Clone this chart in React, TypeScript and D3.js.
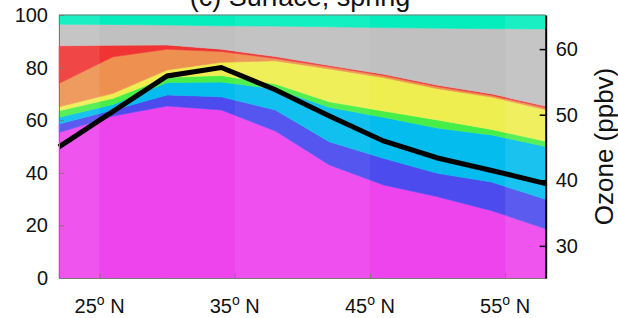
import React, { useRef, useEffect } from 'react';
import * as d3 from 'd3';

// latitude grid (deg N) and share of each source (% of surface ozone), bottom to top
const latitudes = [22, 26, 30, 34, 38, 42, 46, 50, 54, 58];
const magenta = [55.3, 61.6, 65.4, 63.9, 55.9, 43.0, 35.4, 30.9, 25.6, 18.7];
const blue = [3.3, 2.3, 4.2, 5.0, 8.0, 8.8, 10.1, 8.9, 10.9, 11.2];
const cyan = [2.5, 2.1, 4.7, 5.6, 8.0, 13.1, 15.6, 17.2, 17.9, 20.1];
const green = [2.5, 2.3, 2.0, 2.5, 1.9, 2.1, 2.4, 3.1, 2.1, 2.0];
const yellow = [1.5, 1.9, 2.8, 5.0, 8.8, 12.5, 12.7, 11.9, 12.3, 12.0];
const orange = [8.9, 13.9, 7.9, 4.1, 0.9, 0.8, 0.8, 0.8, 0.7, 0.7];
const red = [14.3, 4.4, 1.6, 0.9, 0.7, 0.5, 0.5, 0.5, 0.5, 0.6];
const gray = [8.2, 7.9, 7.6, 8.9, 11.6, 14.7, 17.7, 21.7, 24.8, 29.4];
const teal = [3.5, 3.6, 3.8, 4.1, 4.2, 4.5, 4.8, 5.0, 5.2, 5.3];

// total ozone (ppbv), right axis
const ozone = [45.1, 50.5, 55.9, 57.2, 53.8, 49.8, 46.0, 43.4, 41.5, 39.5];

const xTicks = [25, 35, 45, 55];
const leftTicks = [0, 20, 40, 60, 80, 100];
const rightTicks = [30, 40, 50, 60];

const FONT = '"Liberation Sans", Arial, sans-serif';

export default function App() {
  const svgRef = useRef<SVGSVGElement>(null);

  useEffect(() => {
    const svg = d3.select(svgRef.current);
    svg.selectAll('*').remove();

    const margin = { top: 15, right: 72.3, bottom: 40, left: 59 };
    const width = 618 - margin.left - margin.right;
    const height = 318 - margin.top - margin.bottom;

    const g = svg.append('g').attr('transform', `translate(${margin.left},${margin.top})`);

    const xScale = d3.scaleLinear().domain([22, 58]).range([0, width]);
    const yLeft = d3.scaleLinear().domain([0, 100]).range([height, 0]);
    const yRight = d3.scaleLinear().domain([25.1, 65.2]).range([height, 0]);

    const layers = [
      { key: 'magenta', values: magenta, color: '#ee44ee' },
      { key: 'blue', values: blue, color: '#4b4bee' },
      { key: 'cyan', values: cyan, color: '#04bdee' },
      { key: 'green', values: green, color: '#48ee48' },
      { key: 'yellow', values: yellow, color: '#eeee50' },
      { key: 'orange', values: orange, color: '#ee9050' },
      { key: 'red', values: red, color: '#f03434' },
      { key: 'gray', values: gray, color: '#c0c0c0' },
      { key: 'teal', values: teal, color: '#04eebd' }
    ];

    const rows = latitudes.map((lat, i) => {
      const row: any = { lat };
      layers.forEach(l => { row[l.key] = l.values[i]; });
      return row;
    });

    const stacked = d3.stack().keys(layers.map(l => l.key))(rows);

    const area = d3.area<any>()
      .x(d => xScale(d.data.lat))
      .y0(d => yLeft(d[0]))
      .y1(d => yLeft(d[1]));

    g.selectAll('.layer')
      .data(stacked)
      .enter()
      .append('path')
      .attr('class', 'layer')
      .attr('d', area)
      .attr('fill', (d, i) => layers[i].color)
      .attr('stroke', (d, i) => layers[i].color)
      .attr('stroke-width', 0.6);

    // lighter vertical bands (rendering shading in the original)
    const bands = [
      { from: 22, to: 25, op: 0.09 },
      { from: 35, to: 45, op: 0.06 },
      { from: 55, to: 58, op: 0.09 }
    ];
    g.selectAll('.band')
      .data(bands)
      .enter()
      .append('rect')
      .attr('x', d => xScale(d.from))
      .attr('width', d => xScale(d.to) - xScale(d.from))
      .attr('y', 0)
      .attr('height', height)
      .attr('fill', '#fff')
      .attr('opacity', d => d.op);

    // ozone line
    const line = d3.line<number>()
      .x((d, i) => xScale(latitudes[i]))
      .y(d => yRight(d));

    g.append('path')
      .datum(ozone)
      .attr('d', line)
      .attr('fill', 'none')
      .attr('stroke', '#000')
      .attr('stroke-width', 5);

    // left axis
    const leftAxis = g.append('g')
      .call(d3.axisLeft(yLeft).tickValues(leftTicks).tickSizeInner(-5).tickSizeOuter(0).tickPadding(11));
    leftAxis.select('.domain').attr('stroke', '#7a7a7a');
    leftAxis.selectAll('line').attr('stroke', '#7a7a7a');
    leftAxis.selectAll('text')
      .style('font-family', FONT)
      .style('font-size', '20px')
      .style('fill', '#111');

    // top border
    g.append('line')
      .attr('x1', 0).attr('x2', width)
      .attr('y1', 0).attr('y2', 0)
      .attr('stroke', '#7a7a7a');

    // bottom axis
    const bottomAxis = g.append('g')
      .attr('transform', `translate(0,${height})`)
      .call(d3.axisBottom(xScale).tickValues(xTicks).tickSizeInner(-5).tickSizeOuter(0).tickFormat(() => ''));
    bottomAxis.select('.domain').attr('stroke', '#7a7a7a');
    bottomAxis.selectAll('line').attr('stroke', '#7a7a7a');

    const xLabels = g.selectAll('.x-label')
      .data(xTicks)
      .enter()
      .append('text')
      .attr('class', 'x-label')
      .attr('x', d => xScale(d))
      .attr('y', height + 35)
      .attr('text-anchor', 'middle')
      .style('font-family', FONT)
      .style('font-size', '20px')
      .style('fill', '#111');
    xLabels.append('tspan').text(d => `${d}`);
    xLabels.append('tspan').attr('dy', -8).style('font-size', '14px').text('o');
    xLabels.append('tspan').attr('dy', 8).text(' N');

    // right axis
    const rightAxis = g.append('g')
      .attr('transform', `translate(${width},0)`)
      .call(d3.axisRight(yRight).tickValues(rightTicks).tickSizeInner(-6).tickSizeOuter(0).tickPadding(10));
    rightAxis.select('.domain').attr('stroke', '#000').attr('stroke-width', 2);
    rightAxis.selectAll('line').attr('stroke', '#000').attr('stroke-width', 1.5);
    rightAxis.selectAll('text')
      .style('font-family', FONT)
      .style('font-size', '20px')
      .style('fill', '#111');

    g.append('text')
      .attr('transform', `translate(${width + 67},${height / 2}) rotate(-90)`)
      .attr('text-anchor', 'middle')
      .style('font-family', FONT)
      .style('font-size', '26px')
      .style('fill', '#111')
      .text('Ozone (ppbv)');

    // title
    g.append('text')
      .attr('x', 300 - margin.left)
      .attr('y', 6 - margin.top)
      .attr('text-anchor', 'middle')
      .style('font-family', FONT)
      .style('font-size', '27px')
      .style('fill', '#111')
      .text('(c) Surface, spring');
  }, []);

  return (
    <svg
      ref={svgRef}
      width={618}
      height={318}
      style={{ position: 'absolute', left: 0, top: 0, background: '#fff' }}
    />
  );
}
